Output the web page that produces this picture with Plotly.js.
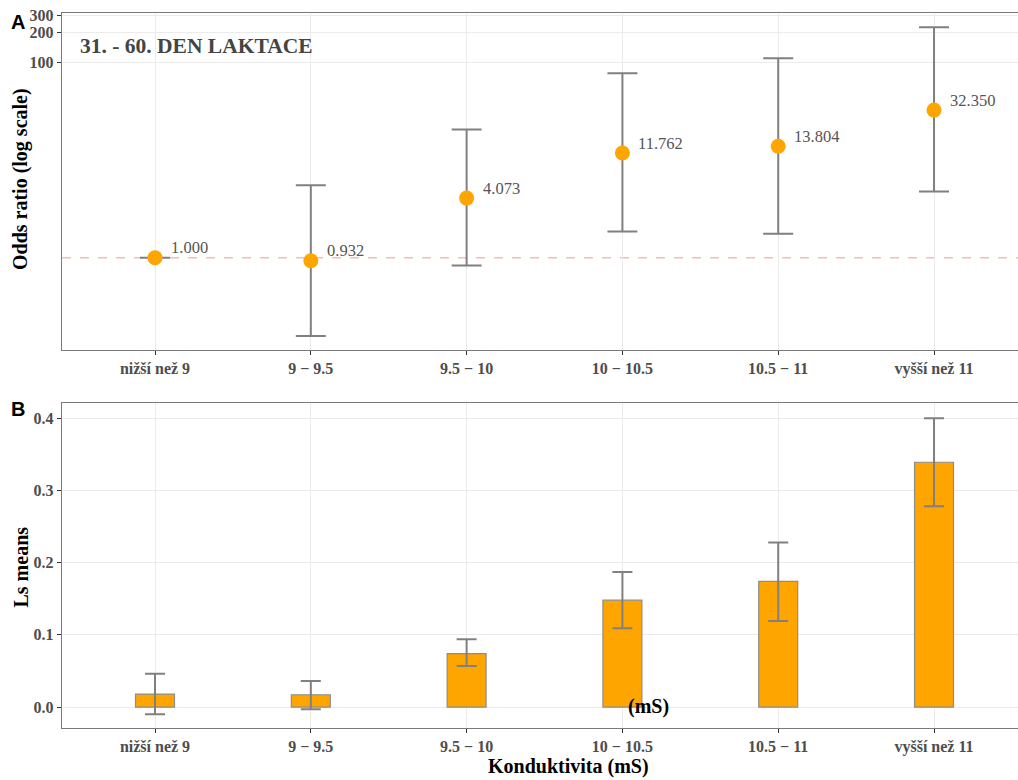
<!DOCTYPE html>
<html><head><meta charset="utf-8">
<script src="https://cdn.plot.ly/plotly-3.0.1.min.js"></script>
<style>body{margin:0;background:#fff}</style>
</head><body><div id="chart" style="width:1018px;height:780px"></div>
<script>
const categories = ['nižší než 9','9 − 9.5','9.5 − 10','10 − 10.5','10.5 − 11','vyšší než 11'];
const oddsRatio = [1.000, 0.932, 4.073, 11.762, 13.804, 32.350];
const orUpper = [1.0, 5.5, 20.5, 77, 110, 228];
const orLower = [1.0, 0.158, 0.83, 1.85, 1.76, 4.75];
const orLabels = ['1.000','0.932','4.073','11.762','13.804','32.350'];
const lsMeans = [0.018, 0.017, 0.074, 0.148, 0.174, 0.339];
const lsUpper = [0.046, 0.036, 0.094, 0.187, 0.228, 0.400];
const lsLower = [-0.010, -0.003, 0.057, 0.109, 0.119, 0.278];
const orTickVals = [100, 200, 300];
const lsTickVals = [0, 0.1, 0.2, 0.3, 0.4];

const serif = 'Liberation Serif, Times New Roman, serif';
const gridC = '#ebebeb';
const frameC = '#7a7a7a';
const errC = '#808080';

const traces = [
  {
    type: 'scatter', mode: 'markers', x: categories, y: oddsRatio,
    xaxis: 'x', yaxis: 'y',
    marker: {color: '#FFA500', size: 15},
    error_y: {type: 'data', symmetric: false,
      array: oddsRatio.map((v, i) => orUpper[i] - v),
      arrayminus: oddsRatio.map((v, i) => v - orLower[i]),
      color: errC, thickness: 2, width: 15},
    cliponaxis: false, hoverinfo: 'skip'
  },
  {
    type: 'bar', x: categories, y: lsMeans, xaxis: 'x2', yaxis: 'y2',
    width: 0.25,
    marker: {color: '#FFA500', line: {color: '#8c8c8c', width: 1.2}},
    error_y: {type: 'data', symmetric: false,
      array: lsMeans.map((v, i) => lsUpper[i] - v),
      arrayminus: lsMeans.map((v, i) => v - lsLower[i]),
      color: errC, thickness: 2, width: 10},
    hoverinfo: 'skip'
  }
];

const tickFont = {family: serif, size: 16, color: '#4d4d4d', weight: 'bold'};
const xcommon = {
  type: 'category', range: [-0.597, 5.539], showgrid: true, gridcolor: gridC, gridwidth: 1,
  showline: true, mirror: true, linecolor: frameC, linewidth: 1.3,
  ticks: 'outside', ticklen: 4, tickcolor: '#333', tickwidth: 1,
  tickfont: tickFont, zeroline: false, fixedrange: true
};

const annotations = categories.map((c, i) => ({
  x: c, y: Math.log10(oddsRatio[i]), xref: 'x', yref: 'y', text: orLabels[i],
  showarrow: false, xanchor: 'left', yanchor: 'middle', xshift: 14, yshift: 10,
  font: {family: serif, size: 16.5, color: '#555555'}
}));
annotations.push(
  {xref: 'paper', yref: 'paper', x: 0.0167, y: 0.941, text: '<b>31. - 60. DEN LAKTACE</b>', showarrow: false,
   xanchor: 'left', yanchor: 'middle', font: {family: serif, size: 21.5, color: '#444444'}},
  {xref: 'paper', yref: 'paper', x: -0.046, y: 0.972, text: '<b>A</b>', showarrow: false,
   xanchor: 'center', yanchor: 'middle', font: {family: 'Liberation Sans, Arial, sans-serif', size: 20, color: '#000'}},
  {xref: 'paper', yref: 'paper', x: -0.046, y: 0.4756, text: '<b>B</b>', showarrow: false,
   xanchor: 'center', yanchor: 'middle', font: {family: 'Liberation Sans, Arial, sans-serif', size: 20, color: '#000'}},
  {xref: 'paper', yref: 'paper', x: -0.0439, y: 0.7705, text: '<b>Odds ratio (log scale)</b>', showarrow: false,
   textangle: -90, xanchor: 'center', yanchor: 'middle', font: {family: serif, size: 20, color: '#000'}},
  {xref: 'paper', yref: 'paper', x: -0.0424, y: 0.273, text: '<b>Ls means</b>', showarrow: false,
   textangle: -90, xanchor: 'center', yanchor: 'middle', font: {family: serif, size: 20, color: '#000'}},
  {xref: 'paper', yref: 'paper', x: 0.530, y: 0.0167, text: '<b>Konduktivita (mS)</b>', showarrow: false,
   xanchor: 'center', yanchor: 'middle', font: {family: serif, size: 20, color: '#000'}},
  {xref: 'paper', yref: 'paper', x: 0.613, y: 0.0936, text: '<b>(mS)</b>', showarrow: false,
   xanchor: 'center', yanchor: 'middle', font: {family: serif, size: 20, color: '#000'}}
);

const layout = {
  width: 1018, height: 780,
  margin: {l: 62, r: 0, t: 0, b: 0},
  paper_bgcolor: '#fff', plot_bgcolor: '#fff',
  showlegend: false,
  xaxis: Object.assign({}, xcommon, {anchor: 'y'}),
  yaxis: {
    type: 'log', domain: [0.5513, 0.9833], range: [-0.944, 2.503], anchor: 'x',
    tickvals: orTickVals, ticktext: orTickVals.map(String),
    showgrid: true, gridcolor: gridC, zeroline: false,
    showline: true, linecolor: frameC, linewidth: 1.3,
    ticks: 'outside', ticklen: 4, tickcolor: '#333', tickfont: tickFont, fixedrange: true
  },
  xaxis2: Object.assign({}, xcommon, {anchor: 'y2'}),
  yaxis2: {
    domain: [0.0667, 0.4833], range: [-0.029, 0.421], anchor: 'x2',
    tickvals: lsTickVals, tickformat: '.1f',
    showgrid: true, gridcolor: gridC, zeroline: false,
    showline: true, linecolor: frameC, linewidth: 1.3,
    ticks: 'outside', ticklen: 4, tickcolor: '#333', tickfont: tickFont, fixedrange: true
  },
  shapes: [
    {type: 'line', xref: 'x domain', yref: 'y', x0: 0, x1: 1, y0: 1, y1: 1,
     line: {color: 'rgba(244,150,135,0.65)', width: 1.5, dash: 'dash'}, layer: 'below'}
  ],
  annotations: annotations
};

Plotly.newPlot('chart', traces, layout, {displayModeBar: false, staticPlot: true});
</script>
</body></html>
